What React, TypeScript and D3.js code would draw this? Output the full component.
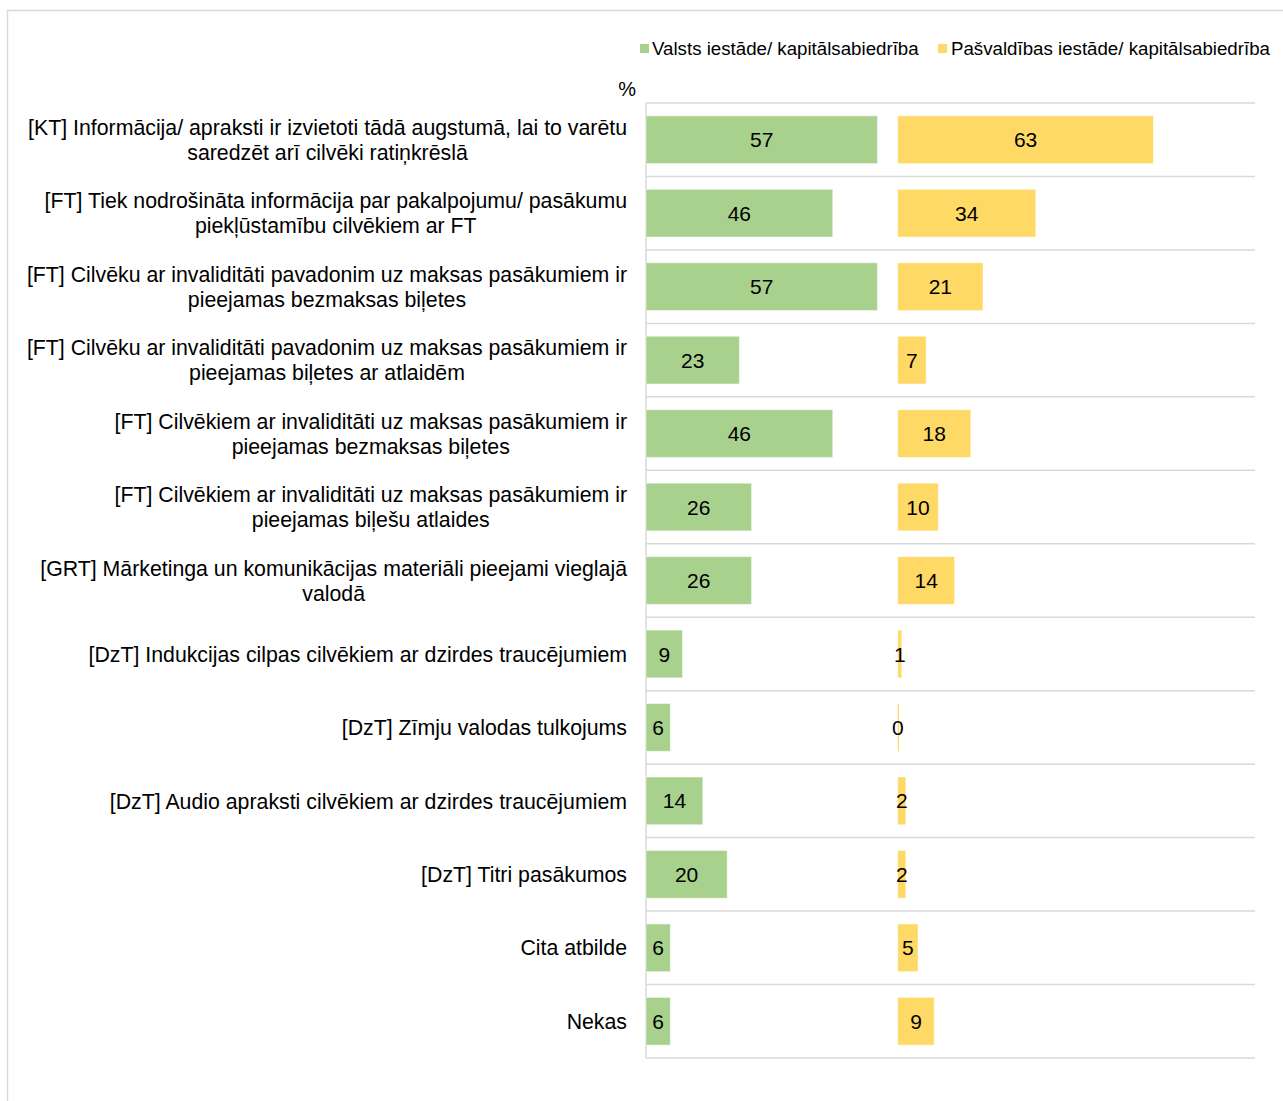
import React from "react";
import * as d3 from "d3";

const categories: string[][] = [
  ["[KT] Informācija/ apraksti ir izvietoti tādā augstumā, lai to varētu", "saredzēt arī cilvēki ratiņkrēslā"],
  ["[FT] Tiek nodrošināta informācija par pakalpojumu/ pasākumu", "piekļūstamību cilvēkiem ar FT"],
  ["[FT] Cilvēku ar invaliditāti pavadonim uz maksas pasākumiem ir", "pieejamas bezmaksas biļetes"],
  ["[FT] Cilvēku ar invaliditāti pavadonim uz maksas pasākumiem ir", "pieejamas biļetes ar atlaidēm"],
  ["[FT] Cilvēkiem ar invaliditāti uz maksas pasākumiem ir", "pieejamas bezmaksas biļetes"],
  ["[FT] Cilvēkiem ar invaliditāti uz maksas pasākumiem ir", "pieejamas biļešu atlaides"],
  ["[GRT] Mārketinga un komunikācijas materiāli pieejami vieglajā", "valodā"],
  ["[DzT] Indukcijas cilpas cilvēkiem ar dzirdes traucējumiem"],
  ["[DzT] Zīmju valodas tulkojums"],
  ["[DzT] Audio apraksti cilvēkiem ar dzirdes traucējumiem"],
  ["[DzT] Titri pasākumos"],
  ["Cita atbilde"],
  ["Nekas"],
];
const valsts: number[] = [57, 46, 57, 23, 46, 26, 26, 9, 6, 14, 20, 6, 6];
const pasvaldibas: number[] = [63, 34, 21, 7, 18, 10, 14, 1, 0, 2, 2, 5, 9];
const seriesNames: string[] = ["Valsts iestāde/ kapitālsabiedrība", "Pašvaldības iestāde/ kapitālsabiedrība"];
const seriesColors: string[] = ["#A9D18E", "#FFD966"];
const panelOffset = 62;
const axisMax = 150;

const W = 1283;
const H = 1101;
const plotLeft = 646;
const plotRight = 1255;
const plotTop = 103;
const plotBottom = 1058;
const font = "'Liberation Sans', Arial, sans-serif";

export default function App() {
  const x = d3.scaleLinear().domain([0, axisMax]).range([plotLeft, plotRight]);
  const idx = categories.map((_, i) => String(i));
  const y = d3.scaleBand().domain(idx).range([plotTop, plotBottom]).paddingInner(0.35).paddingOuter(0.175);
  const rowStep = (plotBottom - plotTop) / categories.length;
  const lineH = 25;

  return (
    <svg width={W} height={H} style={{ position: "absolute", left: 0, top: 0 }} fontFamily={font}>
      <rect x={0} y={0} width={W} height={H} fill="#fff" />
      <rect x={7.5} y={10.5} width={W + 20} height={H + 20} fill="none" stroke="#d9d9d9" strokeWidth={1.5} />
      {/* legend */}
      <rect x={640} y={44} width={9} height={9} fill={seriesColors[0]} />
      <text x={652} y={55} fontSize={18.7} fill="#000">{seriesNames[0]}</text>
      <rect x={938} y={44} width={9} height={9} fill={seriesColors[1]} />
      <text x={951} y={55} fontSize={18.7} fill="#000">{seriesNames[1]}</text>
      <text x={636} y={96} fontSize={20} textAnchor="end" fill="#000">%</text>
      {/* gridlines */}
      {d3.range(categories.length + 1).map((i) => (
        <line key={"g" + i} x1={plotLeft} x2={plotRight} y1={plotTop + i * rowStep} y2={plotTop + i * rowStep} stroke="#d9d9d9" strokeWidth={1.5} />
      ))}
      <line x1={plotLeft} x2={plotLeft} y1={plotTop} y2={plotBottom} stroke="#d9d9d9" strokeWidth={1.5} />
      {/* bars */}
      {categories.map((_, i) => {
        const by = y(String(i))!;
        const bh = y.bandwidth();
        const cy = by + bh / 2;
        const gx0 = x(0), gx1 = x(valsts[i]);
        const yx0 = x(panelOffset), yx1 = x(panelOffset + pasvaldibas[i]);
        return (
          <g key={"b" + i}>
            <rect x={gx0} y={by} width={gx1 - gx0} height={bh} fill={seriesColors[0]} stroke="#fff" strokeOpacity={0.5} strokeWidth={1} />
            <rect x={yx0} y={by} width={Math.max(yx1 - yx0, 1.2)} height={bh} fill={seriesColors[1]} stroke="#fff" strokeOpacity={pasvaldibas[i] === 0 ? 0 : 0.5} strokeWidth={1} />
            <text x={(gx0 + gx1) / 2} y={cy} dy="0.36em" fontSize={21} textAnchor="middle" fill="#000">{valsts[i]}</text>
            <text x={(yx0 + yx1) / 2} y={cy} dy="0.36em" fontSize={21} textAnchor="middle" fill="#000">{pasvaldibas[i]}</text>
          </g>
        );
      })}
      {/* category labels */}
      {categories.map((lines, i) => {
        const cy = plotTop + (i + 0.5) * rowStep;
        const startY = cy - ((lines.length - 1) * lineH) / 2;
        return <CatLabel key={"c" + i} lines={lines} cy={startY} lineH={lineH} right={627} />;
      })}
    </svg>
  );
}

function CatLabel({ lines, cy, lineH, right }: { lines: string[]; cy: number; lineH: number; right: number }) {
  const ref = React.useRef<SVGGElement>(null);
  const [offsets, setOffsets] = React.useState<number[] | null>(null);
  React.useLayoutEffect(() => {
    if (!ref.current) return;
    const texts = Array.from(ref.current.querySelectorAll("text")) as SVGTextElement[];
    const widths = texts.map((t) => t.getComputedTextLength());
    const maxW = Math.max(...widths);
    setOffsets(widths.map((w) => (maxW - w) / 2));
  }, [lines]);
  return (
    <g ref={ref}>
      {lines.map((l, j) => (
        <text key={j} x={right - (offsets ? offsets[j] : 0)} y={cy + j * lineH} dy="0.36em" fontSize={21.3} textAnchor="end" fill="#000">{l}</text>
      ))}
    </g>
  );
}
